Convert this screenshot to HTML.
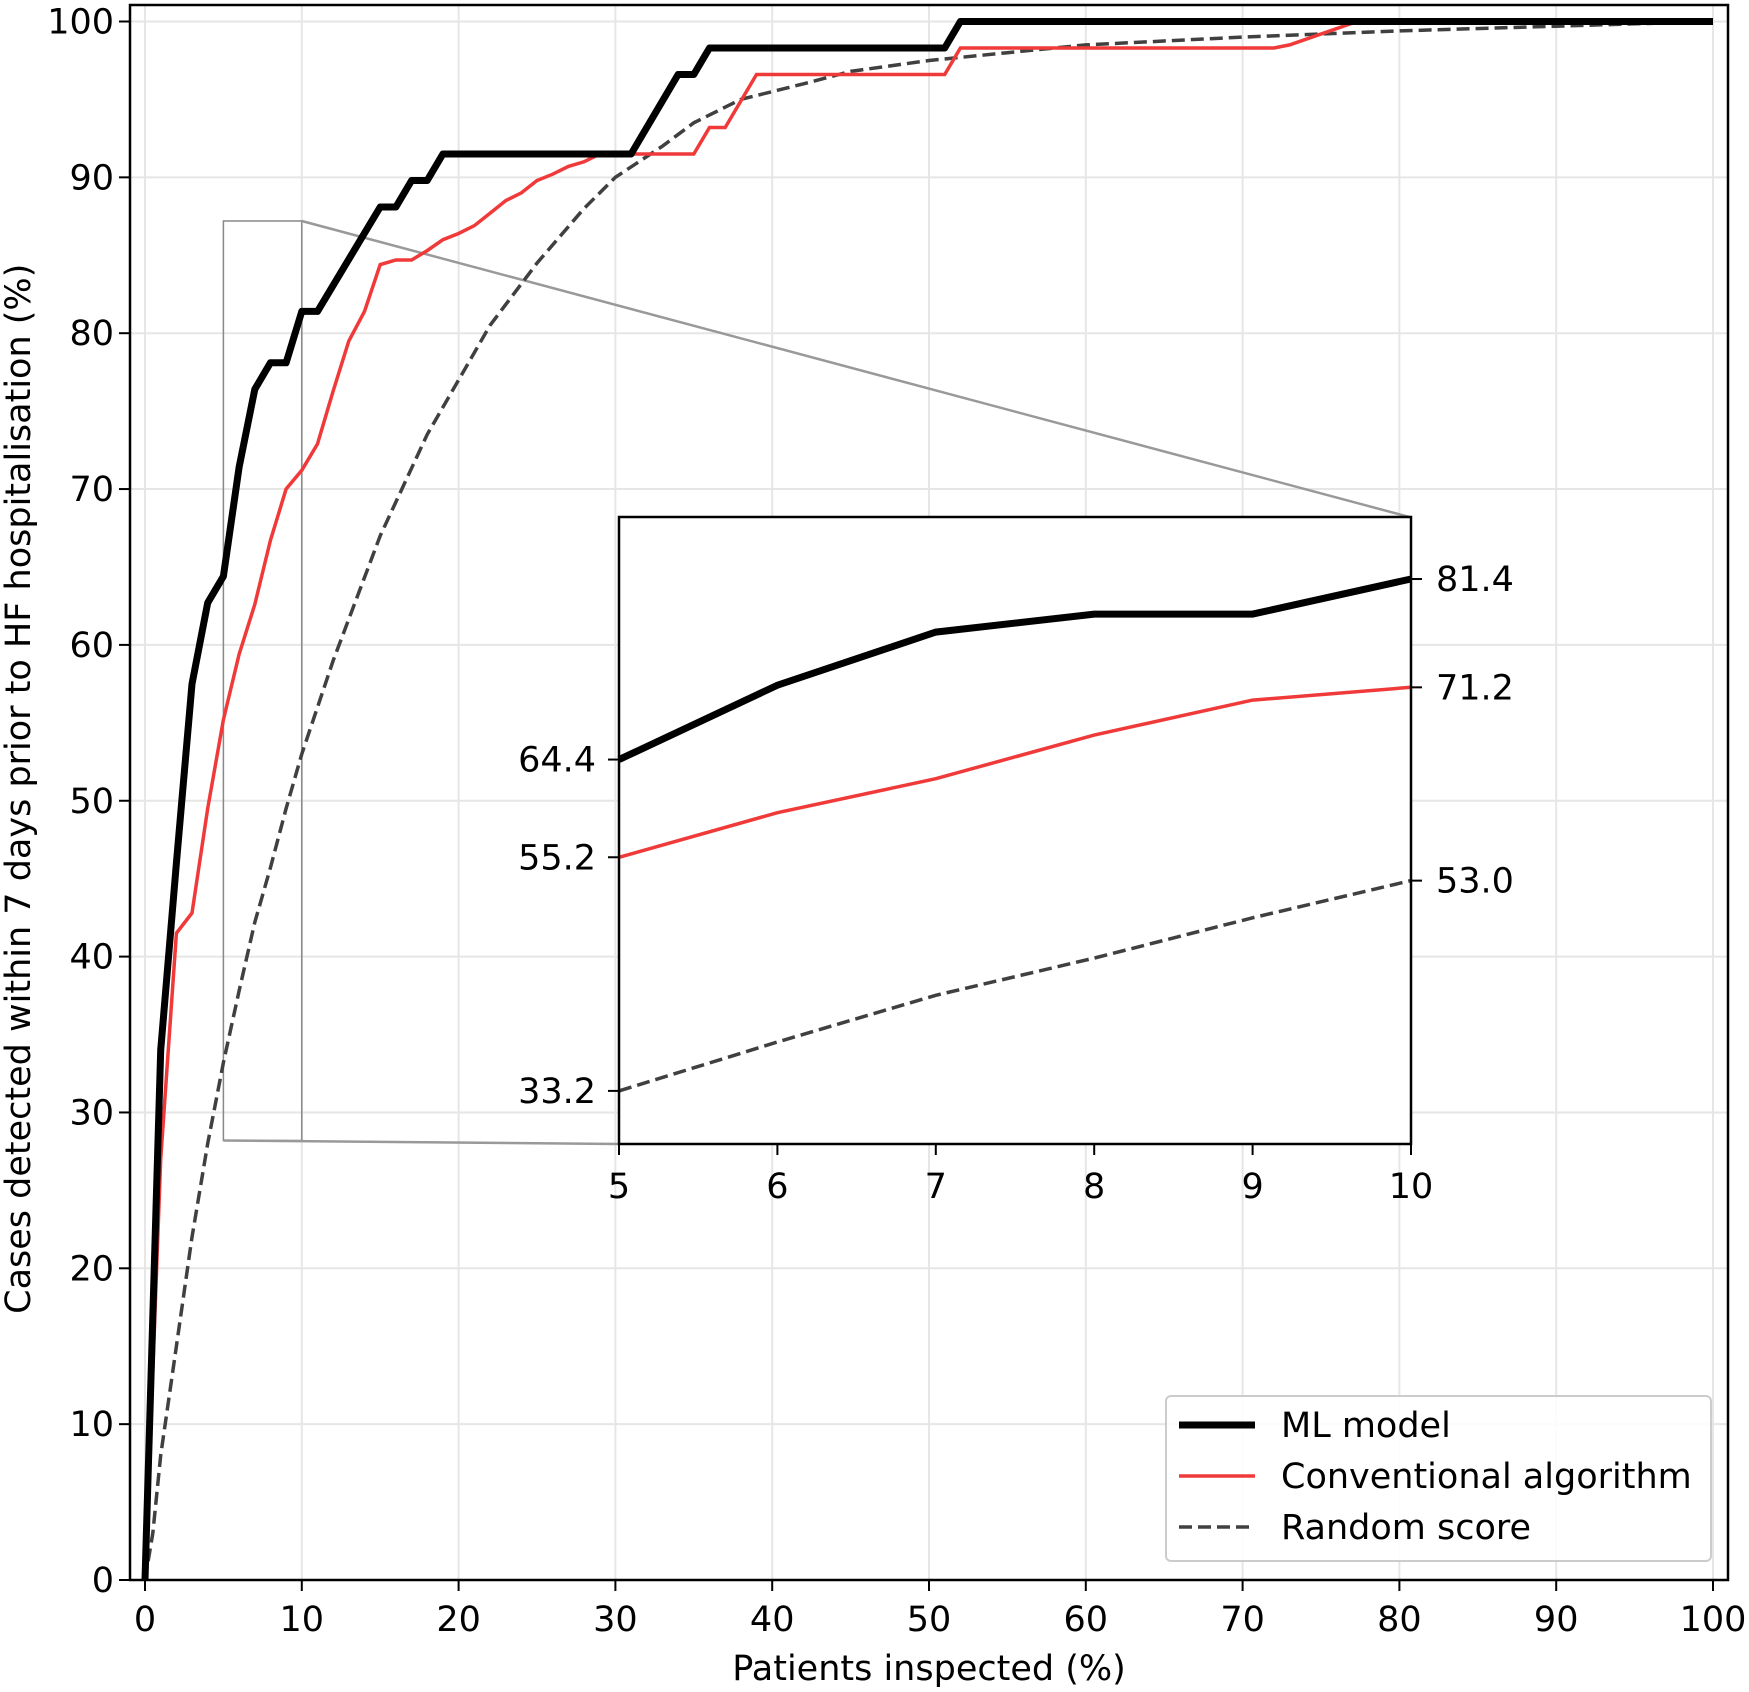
<!DOCTYPE html>
<html><head><meta charset="utf-8"><style>
html,body{margin:0;padding:0;background:#fff;}
svg{display:block;font-family:"DejaVu Sans","Liberation Sans",sans-serif;}
</style></head><body>
<svg id="chart" width="1749" height="1692" viewBox="0 0 1749 1692"></svg>
<script>
const mlX=[0,1,2,3,4,5,6,7,8,9,10,11,15,16,17,18,19,31,34,35,36,51,52,100];
const mlY=[0,34,46,57.5,62.7,64.4,71.4,76.4,78.1,78.1,81.4,81.4,88.1,88.1,89.8,89.8,91.5,91.5,96.6,96.6,98.3,98.3,100,100];
const convX=[0,1,2,3,4,5,6,7,8,9,10,11,12,13,14,15,16,17,18,19,20,21,22,23,24,25,26,27,28,29,35,36,37,39,51,52,72,73,77,100];
const convY=[0,27,41.5,42.8,49.5,55.2,59.4,62.6,66.7,70.0,71.2,72.9,76.3,79.5,81.4,84.4,84.7,84.7,85.3,86,86.4,86.9,87.7,88.5,89,89.8,90.2,90.7,91,91.5,91.5,93.2,93.2,96.6,96.6,98.3,98.3,98.5,99.9,100];
const randX=[0,0.5,1,2,3,4,5,6,7,8,9,10,12,15,18,20,22,25,28,30,33,35,38,42,45,50,55,60,70,80,90,100];
const randY=[0,3,8,15,22,28,33.2,37.8,42.2,45.7,49.5,53.0,59,67,73.5,77,80.5,84.5,88,90,92,93.5,95,96,96.8,97.5,98,98.5,99,99.4,99.7,100];
const xTicks=[0,10,20,30,40,50,60,70,80,90,100];
const yTicks=[0,10,20,30,40,50,60,70,80,90,100];
const insetXTicks=[5,6,7,8,9,10];
const insetLeftLabels=["64.4","55.2","33.2"];
const insetRightLabels=["81.4","71.2","53.0"];

const svg=document.getElementById('chart');
const NS='http://www.w3.org/2000/svg';
const FS=35;
function el(t,a,txt){const e=document.createElementNS(NS,t);for(const k in a)e.setAttribute(k,a[k]);if(txt!==undefined)e.textContent=txt;svg.appendChild(e);return e;}
const X=v=>145+v*15.68, Y=v=>1580-v*15.585;
const iX=v=>619+(v-5)*158.4, iY=v=>1144-(v-28.2)*10.62;

for(const t of xTicks){const g=el('line',{x1:X(t),x2:X(t),y1:5,y2:1580,stroke:'#e6e6e6','stroke-width':2});

}
for(const t of yTicks){const g=el('line',{x1:130,x2:1728,y1:Y(t),y2:Y(t),stroke:'#e6e6e6','stroke-width':2});

}

function path(xs,ys,fx,fy){return xs.map((x,i)=>(i?'L':'M')+fx(x).toFixed(1)+' '+fy(ys[i]).toFixed(1)).join(' ');}

let r=el('rect',{x:X(5),y:Y(87.2),width:X(10)-X(5),height:Y(28.2)-Y(87.2),fill:'none',stroke:'#888','stroke-width':1.5});


let c1=el('line',{x1:X(10),y1:Y(87.2),x2:iX(10),y2:iY(87.2),stroke:'#999','stroke-width':2.5});


let c2=el('line',{x1:X(5),y1:Y(28.2),x2:iX(5),y2:iY(28.2),stroke:'#999','stroke-width':2.5});



let pr=el('path',{d:path(randX,randY,X,Y),fill:'none',stroke:'#404040','stroke-width':3.5,'stroke-dasharray':'13,6'});


let pc=el('path',{d:path(convX,convY,X,Y),fill:'none',stroke:'#f03a3a','stroke-width':3.5});


let pm=el('path',{d:path(mlX,mlY,X,Y),fill:'none',stroke:'#000','stroke-width':7,'stroke-linejoin':'round'});



let fr=el('rect',{x:130,y:5,width:1598,height:1575,fill:'none',stroke:'#000','stroke-width':2.5});



for(const t of xTicks){
 let tk=el('line',{x1:X(t),x2:X(t),y1:1580,y2:1591,stroke:'#000','stroke-width':2});
 
 
 let l=el('text',{x:X(t),y:1631,'text-anchor':'middle','font-size':FS},t);
 
 
}
for(const t of yTicks){
 let tk=el('line',{x1:119,x2:130,y1:Y(t),y2:Y(t),stroke:'#000','stroke-width':2});
 
 
 let l=el('text',{x:114,y:Y(t)+12,'text-anchor':'end','font-size':FS},t);
 
 
}
let xt=el('text',{x:X(50),y:1680,'text-anchor':'middle','font-size':FS},'Patients inspected (%)');


let yt=el('text',{x:0,y:0,'text-anchor':'middle','font-size':FS,transform:'translate(30,'+(Y(50)-12)+') rotate(-90)'},'Cases detected within 7 days prior to HF hospitalisation (%)');



let ib=el('rect',{x:619,y:517,width:792,height:627,fill:'#fff'});


function clipXY(xs,ys){const a=[],b=[];xs.forEach((x,i)=>{if(x>=5&&x<=10){a.push(x);b.push(ys[i]);}});return [a,b];}
let [rx,ry]=clipXY(randX,randY),[cx,cy]=clipXY(convX,convY),[mx,my]=clipXY(mlX,mlY);
let ir=el('path',{d:path(rx,ry,iX,iY),fill:'none',stroke:'#404040','stroke-width':3.5,'stroke-dasharray':'13,6'});


let ic=el('path',{d:path(cx,cy,iX,iY),fill:'none',stroke:'#f03a3a','stroke-width':3.5});


let im=el('path',{d:path(mx,my,iX,iY),fill:'none',stroke:'#000','stroke-width':7});


let ifr=el('rect',{x:619,y:517,width:792,height:627,fill:'none',stroke:'#000','stroke-width':2.5});


for(const t of insetXTicks){
 let tk=el('line',{x1:iX(t),x2:iX(t),y1:1144,y2:1155,stroke:'#000','stroke-width':2});
 
 
 let l=el('text',{x:iX(t),y:1198,'text-anchor':'middle','font-size':FS},t);
 
 
}
insetLeftLabels.forEach(s=>{
 const v=parseFloat(s);
 let tk=el('line',{x1:608,x2:619,y1:iY(v),y2:iY(v),stroke:'#000','stroke-width':2});
 
 
 let l=el('text',{x:596,y:iY(v)+12,'text-anchor':'end','font-size':FS},s);
 
 
});
insetRightLabels.forEach(s=>{
 const v=parseFloat(s);
 let tk=el('line',{x1:1411,x2:1422,y1:iY(v),y2:iY(v),stroke:'#000','stroke-width':2});
 
 
 let l=el('text',{x:1436,y:iY(v)+12,'text-anchor':'start','font-size':FS},s);
 
 
});

let lg=el('rect',{x:1166,y:1396,width:545,height:165,rx:5,fill:'#fff','fill-opacity':0.85,stroke:'#ccc','stroke-width':2});


const leg=[['ML model','#000',7,'none',1425,'legend-ml-model'],['Conventional algorithm','#f03a3a',3.5,'none',1476,'legend-conventional'],['Random score','#404040',3.5,'13,6',1527,'legend-random-score']];
for(const [t,col,w,d,y,n] of leg){
 let ln=el('line',{x1:1179,x2:1255,y1:y,y2:y,stroke:col,'stroke-width':w,'stroke-dasharray':d});
 
 
 let tx=el('text',{x:1281,y:y+12,'font-size':FS},t);
 
 
}
</script>
</body></html>
